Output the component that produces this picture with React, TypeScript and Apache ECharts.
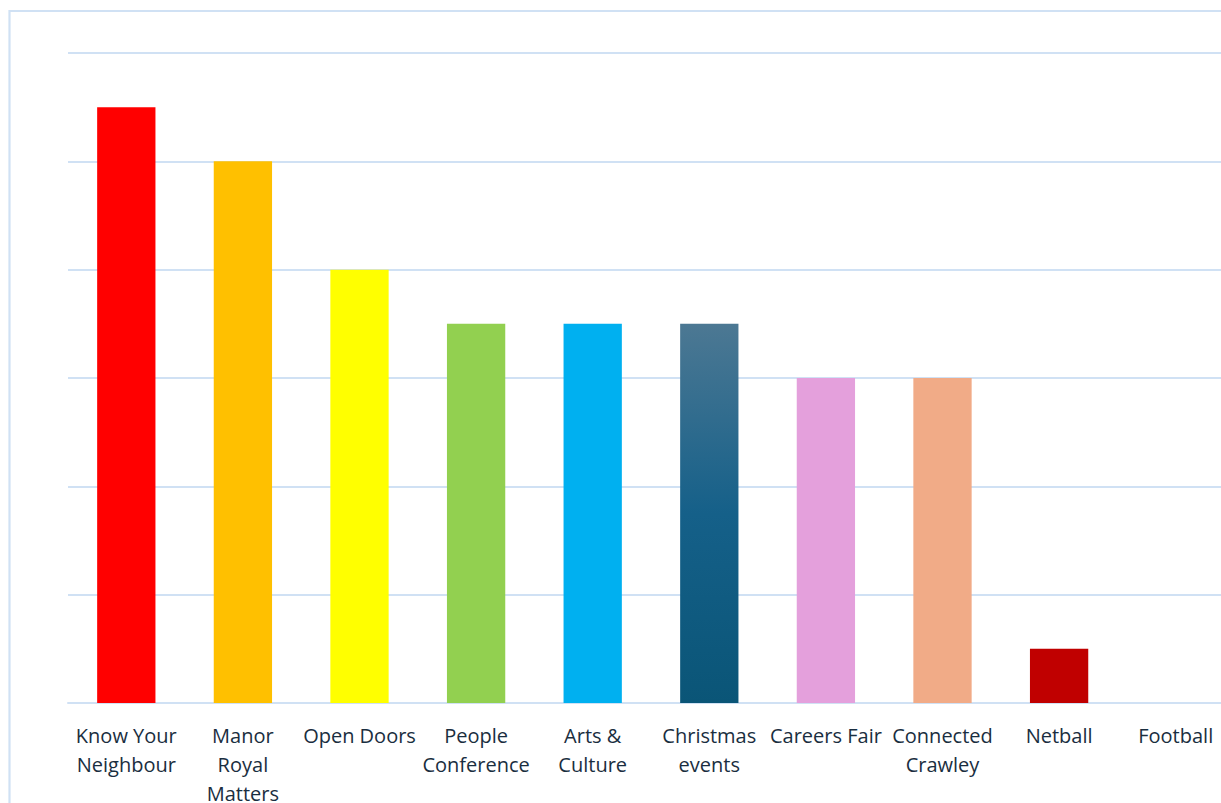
import React, { useEffect, useRef } from "react";
import * as echarts from "echarts";

// Event categories (line breaks as shown under each bar)
const categories = [
  "Know Your\nNeighbour",
  "Manor\nRoyal\nMatters",
  "Open Doors",
  "People\nConference",
  "Arts &\nCulture",
  "Christmas\nevents",
  "Careers Fair",
  "Connected\nCrawley",
  "Netball",
  "Football",
];

// Score for each event
const values = [5.5, 5, 4, 3.5, 3.5, 3.5, 3, 3, 0.5, 0];

const barColors: any[] = [
  "#FF0000",
  "#FFC000",
  "#FFFF00",
  "#92D050",
  "#00B0F0",
  new echarts.graphic.LinearGradient(0, 0, 0, 1, [
    { offset: 0, color: "#4c7893" },
    { offset: 0.5, color: "#156089" },
    { offset: 1, color: "#0a5577" },
  ]),
  "#E4A0DC",
  "#F1AB87",
  "#C00000",
  "#7F7F7F",
];

const yMin = 0;
const yMax = 6;
const yStep = 1;

export default function App() {
  const ref = useRef<HTMLDivElement>(null);

  useEffect(() => {
    document.body.style.margin = "0";
    if (!ref.current) return;
    const chart = echarts.init(ref.current, undefined, { renderer: "svg" });
    const gridColor = "#d0e1f4";
    chart.setOption({
      animation: false,
      backgroundColor: "#ffffff",
      grid: {
        left: 68,
        right: 0,
        top: 53,
        bottom: 100,
        containLabel: false,
        outerBoundsMode: "none",
      },
      graphic: [
        {
          type: "rect",
          shape: { x: 9.5, y: 11, width: 1400, height: 900 },
          style: { fill: "none", stroke: gridColor, lineWidth: 2.2 },
          z: 0,
        },
      ],
      xAxis: {
        type: "category",
        data: categories,
        axisTick: { show: false },
        axisLine: { show: true, lineStyle: { color: gridColor, width: 2 } },
        axisLabel: {
          interval: 0,
          margin: 18,
          color: "#1a2e40",
          fontFamily: "Open Sans",
          fontSize: 20,
          lineHeight: 29,
        },
      },
      yAxis: {
        type: "value",
        min: yMin,
        max: yMax,
        interval: yStep,
        axisLabel: { show: false },
        axisLine: { show: false },
        axisTick: { show: false },
        splitLine: { lineStyle: { color: gridColor, width: 2 } },
      },
      series: [
        {
          type: "bar",
          barWidth: "50%",
          data: values.map((v, i) => ({
            value: v,
            itemStyle: { color: barColors[i] },
          })),
        },
      ],
    });
    return () => chart.dispose();
  }, []);

  return (
    <div style={{ width: 1221, height: 803, overflow: "hidden", position: "relative" }}>
      <div ref={ref} style={{ width: 1234, height: 803, position: "absolute", left: 0, top: 0 }} />
    </div>
  );
}
